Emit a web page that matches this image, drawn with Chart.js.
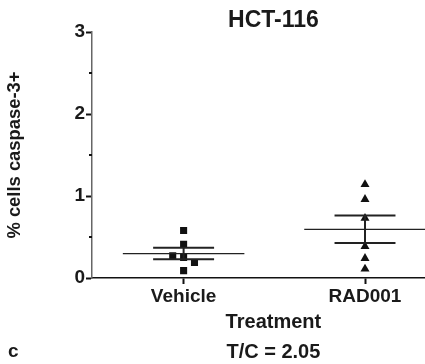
<!DOCTYPE html>
<html>
<head>
<meta charset="utf-8">
<script src="https://cdn.jsdelivr.net/npm/chart.js@4"></script>
<style>
  html, body { margin: 0; padding: 0; overflow: hidden; background: #fff; }
  canvas { display: block; }
</style>
</head>
<body>
<canvas id="caspChart" width="460" height="364"></canvas>
<script>
const groups = ["Vehicle", "RAD001"];
const vehicleVals = [0.58, 0.41, 0.27, 0.25, 0.19, 0.09];
const vehicleX = [1, 1, 0.94, 1, 1.06, 1];
const radVals = [1.14, 0.96, 0.73, 0.385, 0.24, 0.11];
const radX = [2, 2, 2, 2, 2, 2];
const yTicks = [0, 1, 2, 3];
const yMinorTicks = [0.5, 1.5, 2.5];

const FONT = "'Liberation Sans', Arial, Helvetica, sans-serif";
const INK = "#1a1a1a";

function mean(a) {
  return a.reduce((s, v) => s + v, 0) / a.length;
}
function sem(a) {
  const m = mean(a);
  const sd = Math.sqrt(a.reduce((s, v) => s + (v - m) * (v - m), 0) / (a.length - 1));
  return sd / Math.sqrt(a.length);
}

// mean line + SEM whiskers for one group, as line segments separated by gaps
function summarySegments(vals, x) {
  const m = mean(vals), e = sem(vals);
  const half = 0.335, cap = 0.168;
  return [
    { x: x - half, y: m }, { x: x + half, y: m }, { x: x, y: null },
    { x: x - cap, y: m + e }, { x: x + cap, y: m + e }, { x: x, y: null },
    { x: x - cap, y: m - e }, { x: x + cap, y: m - e }, { x: x, y: null },
    { x: x, y: m - e }, { x: x, y: m + e },
  ];
}

function summaryDataset(vals, x) {
  return {
    type: "line",
    data: summarySegments(vals, x),
    borderColor: "#222",
    borderWidth: 2,
    pointRadius: 0,
    spanGaps: false,
    // the mean line is a bit lighter than the whiskers
    segment: { borderWidth: (c) => (c.p0DataIndex === 0 ? 1.3 : 2) },
  };
}

const extras = {
  id: "extras",
  afterDraw(chart) {
    const { ctx, scales: { y } } = chart;
    ctx.save();
    ctx.strokeStyle = "#111";
    ctx.lineWidth = 2;
    yMinorTicks.forEach((v) => {
      const py = Math.round(y.getPixelForValue(v));
      ctx.beginPath();
      ctx.moveTo(y.right - 3, py);
      ctx.lineTo(y.right, py);
      ctx.stroke();
    });
    // panel letter
    ctx.fillStyle = INK;
    ctx.font = "bold 19px " + FONT;
    ctx.textAlign = "left";
    ctx.textBaseline = "alphabetic";
    ctx.fillText("c", 8, 357);
    ctx.restore();
  },
};

new Chart(document.getElementById("caspChart"), {
  type: "scatter",
  data: {
    datasets: [
      summaryDataset(vehicleVals, 1),
      summaryDataset(radVals, 2),
      {
        label: groups[0],
        data: vehicleVals.map((v, i) => ({ x: vehicleX[i], y: v })),
        pointStyle: "rect",
        pointRadius: 5,
        backgroundColor: "#111",
        borderColor: "#111",
        borderWidth: 0,
      },
      {
        label: groups[1],
        data: radVals.map((v, i) => ({ x: radX[i], y: v })),
        pointStyle: "triangle",
        pointRadius: 5.2,
        backgroundColor: "#111",
        borderColor: "#111",
        borderWidth: 0,
      },
    ],
  },
  options: {
    responsive: false,
    animation: false,
    events: [],
    layout: { padding: 0 },
    plugins: {
      legend: { display: false },
      tooltip: { enabled: false },
      title: {
        display: true,
        text: "HCT-116",
        fullSize: false,
        color: INK,
        font: { family: FONT, size: 23, weight: "bold", lineHeight: 1 },
        padding: { top: 9, bottom: 0 },
      },
      subtitle: {
        display: true,
        position: "bottom",
        text: "T/C = 2.05",
        fullSize: false,
        color: INK,
        font: { family: FONT, size: 20, weight: "bold", lineHeight: 1 },
        padding: { top: 0, bottom: 2 },
      },
    },
    scales: {
      x: {
        type: "linear",
        min: 0.495,
        max: 2.495,
        afterBuildTicks: (scale) => {
          scale.ticks = groups.map((g, i) => ({ value: i + 1 }));
        },
        afterFit: (scale) => {
          scale.height = 64;
        },
        ticks: {
          callback: (v) => groups[v - 1],
          color: INK,
          font: { family: FONT, size: 19, weight: "bold" },
          padding: 1,
          maxRotation: 0,
        },
        grid: {
          drawOnChartArea: false,
          tickLength: 6,
          tickWidth: 2,
          tickColor: "#111",
        },
        border: { color: "#111", width: 1.5 },
        title: {
          display: true,
          text: "Treatment",
          color: INK,
          font: { family: FONT, size: 20, weight: "bold", lineHeight: 1 },
          padding: { top: 0, bottom: 9.5 },
        },
      },
      y: {
        min: 0,
        max: 3,
        afterBuildTicks: (scale) => {
          scale.ticks = yTicks.map((v) => ({ value: v }));
        },
        afterFit: (scale) => {
          scale.width = 92;
        },
        ticks: {
          color: INK,
          font: { family: FONT, size: 19, weight: "bold" },
          padding: 1,
        },
        grid: {
          drawOnChartArea: false,
          tickLength: 6,
          tickWidth: 2,
          tickColor: "#111",
        },
        border: { color: "#666", width: 1.5 },
        title: {
          display: true,
          text: "% cells caspase-3+",
          color: INK,
          font: { family: FONT, size: 18.4, weight: "bold", lineHeight: 1 },
          padding: { top: 6, bottom: 0 },
        },
      },
    },
  },
  plugins: [extras],
});
</script>
</body>
</html>
